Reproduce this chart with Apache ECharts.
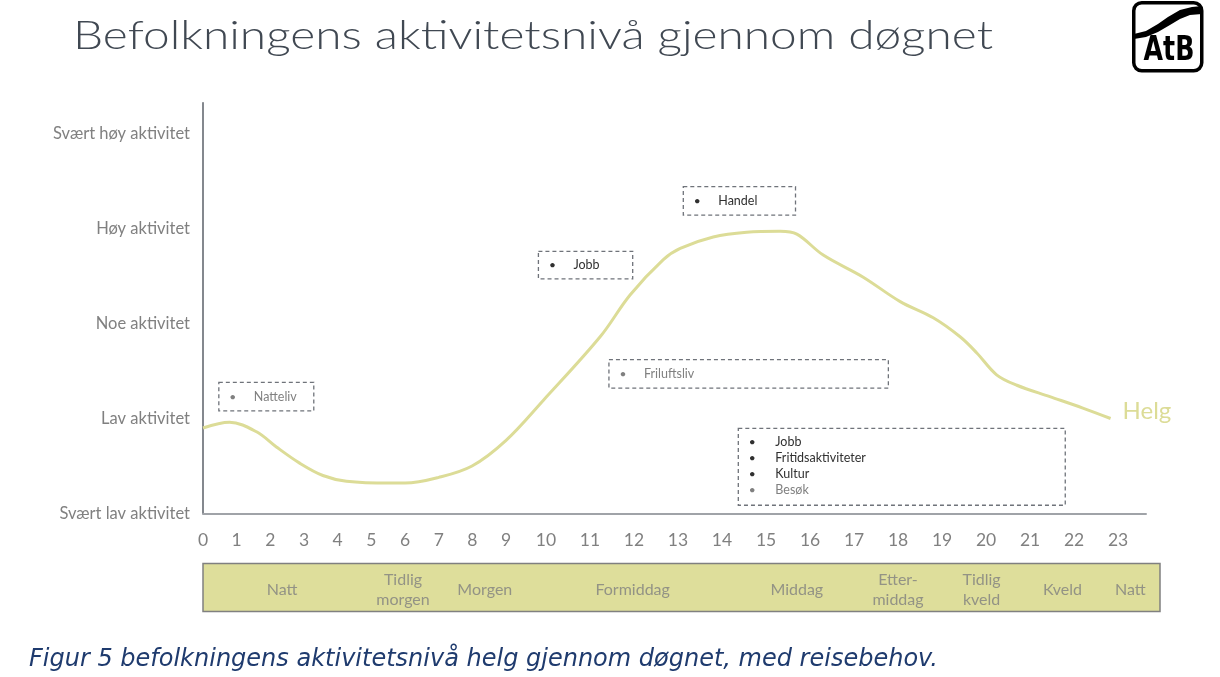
<!DOCTYPE html>
<html>
<head>
<meta charset="utf-8">
<script src="https://cdn.jsdelivr.net/npm/echarts@6/dist/echarts.min.js"></script>
<style>
html,body{margin:0;padding:0;background:#fff;}
#chart{width:1220px;height:677px;}
</style>
</head>
<body>
<div id="chart"></div>
<script>
// ---------- data ----------
const hourTicks = [0,1,2,3,4,5,6,7,8,9,10,11,12,13,14,15,16,17,18,19,20,21,22,23];
const levelNames = ['Svært lav aktivitet','Lav aktivitet','Noe aktivitet','Høy aktivitet','Svært høy aktivitet'];

// "Helg" curve: hour of day, activity level (0 = svært lav ... 4 = svært høy)
const curveHours  = [0, 0.79, 1.59, 2.18, 2.87, 3.56, 4.26, 5.55, 6.0, 7.0, 7.99, 9.0, 9.93, 11.23, 11.91, 12.66, 13.05, 13.80, 14.56, 15.32, 15.70, 16.30, 17.20, 18.05, 18.80, 19.41, 19.79, 20.24, 20.70, 21.45, 22.20, 22.83];
const curveLevels = [0.90, 0.96, 0.86, 0.70, 0.53, 0.40, 0.34, 0.32, 0.32, 0.38, 0.50, 0.77, 1.19, 1.86, 2.30, 2.67, 2.79, 2.91, 2.96, 2.97, 2.94, 2.72, 2.49, 2.23, 2.06, 1.86, 1.69, 1.46, 1.35, 1.23, 1.11, 1.00];
const seriesName = 'Helg';

// periods of the day (bottom band)
const periodNames = ['Natt','Tidlig\nmorgen','Morgen','Formiddag','Middag','Etter-\nmiddag','Tidlig\nkveld','Kveld','Natt'];
const periodHours = [2.35, 5.94, 8.37, 11.97, 15.7, 18.0, 19.9, 21.74, 23.28];

// travel-need annotations (hour / level extents)
const noteItems = [['Natteliv'], ['Jobb'], ['Handel'], ['Friluftsliv'], ['Jobb','Fritidsaktiviteter','Kultur','Besøk']];
const noteHourFrom = [0.47, 9.81, 13.12, 11.43, 14.37];
const noteHourTo   = [3.29, 11.97, 15.67, 17.78, 21.80];
const noteLevelLow  = [1.08, 2.47, 3.14, 1.32, 0.087];
const noteLevelHigh = [1.38, 2.76, 3.44, 1.62, 0.895];

const titleText = 'Befolkningens aktivitetsnivå gjennom døgnet';
const captionText = 'Figur 5 befolkningens aktivitetsnivå helg gjennom døgnet, med reisebehov.';

// ---------- helpers ----------
// The original time axis is not uniform: hours 0-9 are narrower than 10-23.
function toAxis(h){
  if (h <= 9) return h * 33.67 / 44;
  if (h <= 10) return 6.886 + (h - 9) * 40 / 44;
  return 7.795 + (h - 10);
}
const mutedItems = new Set(['Natteliv','Friluftsliv','Besøk']);
const FONT = 'Lato, "Open Sans", sans-serif';

// stretch the light title to the width of the original (geometric, wide) typeface
const TITLE_FONT = '300 40px Lato';
const mctx = document.createElement('canvas').getContext('2d');
mctx.font = TITLE_FONT;
const titleScale = 920 / mctx.measureText(titleText).width;

const chart = echarts.init(document.getElementById('chart'), null, {renderer:'canvas'});

const option = {
  animation: false,
  backgroundColor: '#ffffff',
  grid: [
    {left: 203, right: 74, top: 102.7, bottom: 163.5},
    {left: 203, width: 957, top: 563.5, height: 48, show: true, backgroundColor: '#dede9b', borderColor: '#808080', borderWidth: 1.5}
  ],
  xAxis: [
    {
      type: 'value', gridIndex: 0, min: 0, max: 21.43,
      axisLine: {show: true, lineStyle: {color: '#a0a3a8', width: 2}},
      axisTick: {show: false}, splitLine: {show: false},
      axisLabel: {
        customValues: hourTicks.map(toAxis),
        formatter: function(v){
          let best = 0, bd = 1e9;
          hourTicks.forEach(function(h, i){ const d = Math.abs(toAxis(h) - v); if (d < bd){bd = d; best = i;} });
          return String(hourTicks[best]);
        },
        margin: 18, fontSize: 17.5, color: '#808080', fontFamily: FONT
      }
    },
    {type: 'value', gridIndex: 1, min: 0, max: 21.75, show: false}
  ],
  yAxis: [
    {
      type: 'value', gridIndex: 0, min: 0, max: 4.324, interval: 1,
      axisLine: {show: true, lineStyle: {color: '#5b6068', width: 1.5}},
      axisTick: {show: false}, splitLine: {show: false},
      axisLabel: {
        formatter: function(v){ return Math.abs(v - Math.round(v)) < 1e-6 ? levelNames[Math.round(v)] : ''; },
        margin: 13, fontSize: 16.5, color: '#808080', fontFamily: FONT
      }
    },
    {type: 'value', gridIndex: 1, min: 0, max: 1, show: false}
  ],
  series: [
    {
      name: seriesName,
      type: 'line', xAxisIndex: 0, yAxisIndex: 0,
      data: curveHours.map(function(h, i){ return [toAxis(h), curveLevels[i]]; }),
      smooth: 0.35, showSymbol: false, symbol: 'none',
      lineStyle: {color: '#dcdc97', width: 3},
      endLabel: {show: true, formatter: seriesName, color: '#dcdc97', fontSize: 24, fontFamily: FONT, distance: 12, offset: [0, -7]}
    },
    {
      type: 'custom', xAxisIndex: 0, yAxisIndex: 0, silent: true,
      data: noteItems.map(function(_, i){ return [toAxis(noteHourFrom[i]), noteLevelLow[i], toAxis(noteHourTo[i]), noteLevelHigh[i], i]; }),
      encode: {x: [0, 2], y: [1, 3]},
      renderItem: function(params, api){
        const i = api.value(4);
        const tl = api.coord([api.value(0), api.value(3)]);
        const br = api.coord([api.value(2), api.value(1)]);
        const items = noteItems[i];
        const children = [{
          type: 'rect',
          shape: {x: tl[0], y: tl[1], width: br[0] - tl[0], height: br[1] - tl[1]},
          style: {fill: 'none', stroke: '#6f737a', lineWidth: 1.3, lineDash: [4, 3]}
        }];
        const n = items.length;
        items.forEach(function(t, k){
          const y = n === 1 ? (tl[1] + br[1]) / 2 : tl[1] + 13.4 + k * 16.1;
          const col = mutedItems.has(t) ? '#808080' : '#303030';
          children.push({type: 'text', style: {text: '•', x: tl[0] + 14, y: y, fill: col, fontSize: 12, fontFamily: FONT, verticalAlign: 'middle', align: 'center'}});
          children.push({type: 'text', style: {text: t, x: tl[0] + (n === 1 ? 35 : 37), y: y, fill: col, fontSize: 12.5, fontFamily: FONT, verticalAlign: 'middle', align: 'left'}});
        });
        return {type: 'group', children: children};
      }
    },
    {
      type: 'scatter', xAxisIndex: 1, yAxisIndex: 1, silent: true,
      symbolSize: 0,
      data: periodNames.map(function(n, i){ return {name: n, value: [toAxis(periodHours[i]), 0.5]}; }),
      label: {show: true, position: 'inside', formatter: '{b}', color: '#808080', fontSize: 16, lineHeight: 20, fontFamily: FONT, align: 'center', verticalAlign: 'middle', offset: [0, 2]}
    }
  ],
  graphic: [
    {
      type: 'text', x: 73, y: 36, scaleX: titleScale,
      style: {text: titleText, fill: '#404852', fontSize: 40, fontWeight: 300, fontFamily: 'Lato', verticalAlign: 'middle', align: 'left'}
    },
    {
      type: 'text', left: 29, top: 648,
      style: {text: captionText, fill: '#1f3b6e', fontSize: 24, fontStyle: 'italic', fontFamily: '"DejaVu Sans", Verdana, sans-serif'}
    },
    {
      type: 'group', left: 1132, top: 1,
      children: [
        {type: 'rect', shape: {x: 1.8, y: 1.8, width: 68, height: 68, r: 8}, style: {fill: '#fff', stroke: '#000', lineWidth: 3.5}},
        {type: 'polygon', shape: {points: [[2,33],[14,30],[26,23],[36,16],[48,9],[60,6],[70,5],[70,13],[58,14],[48,18],[38,24],[26,31],[14,36],[2,38]]}, style: {fill: '#000'}},
        {type: 'text', x: 37, y: 50, scaleX: 0.85, style: {text: 'AtB', x: 0, y: 0, fill: '#000', fontSize: 33, fontWeight: 'bold', fontFamily: '"DejaVu Sans Condensed", "DejaVu Sans", sans-serif', align: 'center', verticalAlign: 'middle'}}
      ]
    }
  ]
};
chart.setOption(option);
</script>
</body>
</html>
